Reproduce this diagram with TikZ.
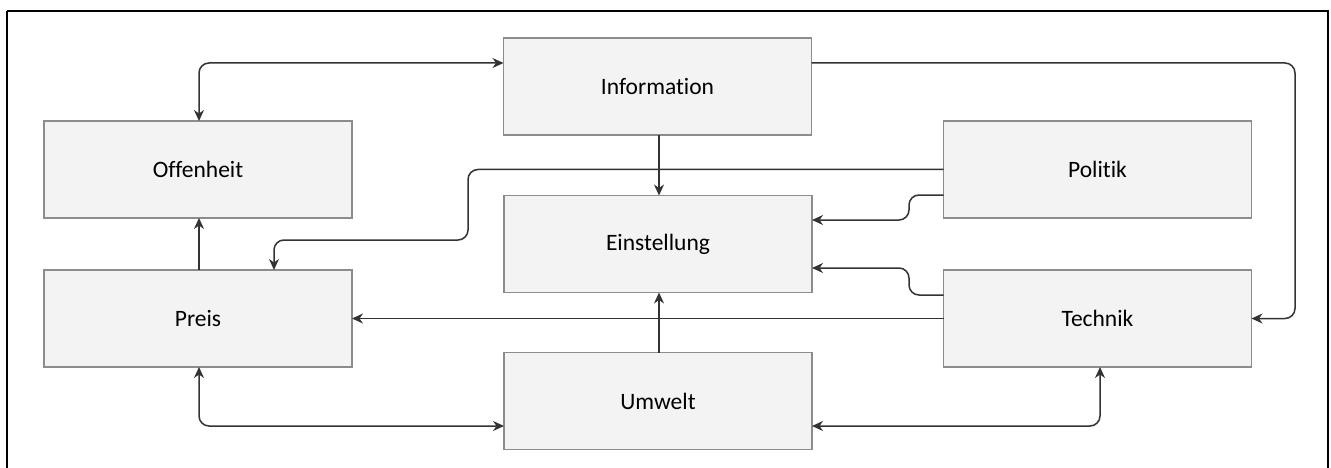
\documentclass[tikz,border=0pt]{standalone}
\usepackage{fontspec}
\setmainfont{Carlito}[Ligatures=NoCommon]
\usetikzlibrary{arrows.meta}
\definecolor{linec}{HTML}{333333}
\definecolor{boxborder}{HTML}{8C8C8C}
\definecolor{boxfill}{HTML}{F3F3F3}
\tikzset{
  factor/.style={draw=boxborder, fill=boxfill, line width=1.3pt, minimum width=308pt, minimum height=97pt, inner sep=0pt, outer sep=0pt, font=\fontsize{23.5}{28}\selectfont},
  conn/.style={draw=linec, line width=1.5pt, rounded corners=10pt},
  tip/.style={-{Stealth[length=11pt,width=10pt,inset=3.5pt]}},
  bitip/.style={{Stealth[length=11pt,width=10pt,inset=3.5pt]}-{Stealth[length=11pt,width=10pt,inset=3.5pt]}}
}
\begin{document}
\begin{tikzpicture}[x=1pt,y=-1pt]
\useasboundingbox (0,0) rectangle (1331,468);
\fill[white] (0,0) rectangle (1331,468);
\draw[black, line width=2pt] (7,11) -- (7,480) (7,11) -- (1328,11) -- (1328,480);

\node[factor] (info) at (657.5,86.5) {\raisebox{-3pt}{Information}};
\node[factor] (offen) at (198,169.5) {\raisebox{-2pt}{Offenheit}};
\node[factor] (politik) at (1097.5,169.5) {\raisebox{-2pt}{Politik}};
\node[factor] (einst) at (658,244) {\raisebox{-2pt}{Einstellung}};
\node[factor] (preis) at (198,318.5) {\raisebox{-3pt}{Preis}};
\node[factor] (technik) at (1097.5,318.5) {\raisebox{-1pt}{Technik}};
\node[factor] (umwelt) at (658,401) {\raisebox{-3pt}{Umwelt}};

% Offenheit <-> Information
\draw[conn,bitip] (offen.north -| 199,0) |- (info.west |- 0,63);
% Information -> Technik
\draw[conn,tip] (info.east |- 0,63) -- (1295,63) -- (1295,318.5) -- (technik.east);
% Information -> Einstellung
\draw[conn,tip] (info.south -| 659,0) -- (einst.north -| 659,0);
% Politik -> Preis
\draw[conn,tip] (politik.west) -- (468,169.5) -- (468,240) -- (274,240) -- (preis.north -| 274,0);
% Politik -> Einstellung
\draw[conn,tip] (politik.west |- 0,195) -- (909,195) -- (909,220) -- (einst.east |- 0,220);
% Technik -> Einstellung
\draw[conn,tip] (technik.west |- 0,295) -- (909,295) -- (909,268) -- (einst.east |- 0,268);
% Technik -> Preis
\draw[conn,tip] (technik.west) -- (preis.east);
% Umwelt -> Einstellung
\draw[conn,tip] (umwelt.north -| 659,0) -- (einst.south -| 659,0);
% Preis -> Offenheit
\draw[conn,tip] (preis.north -| 199,0) -- (offen.south -| 199,0);
% Preis <-> Umwelt
\draw[conn,bitip] (preis.south -| 199,0) |- (umwelt.west |- 0,426);
% Umwelt <-> Technik
\draw[conn,bitip] (umwelt.east |- 0,426) -| (technik.south -| 1100,0);
\end{tikzpicture}
\end{document}
